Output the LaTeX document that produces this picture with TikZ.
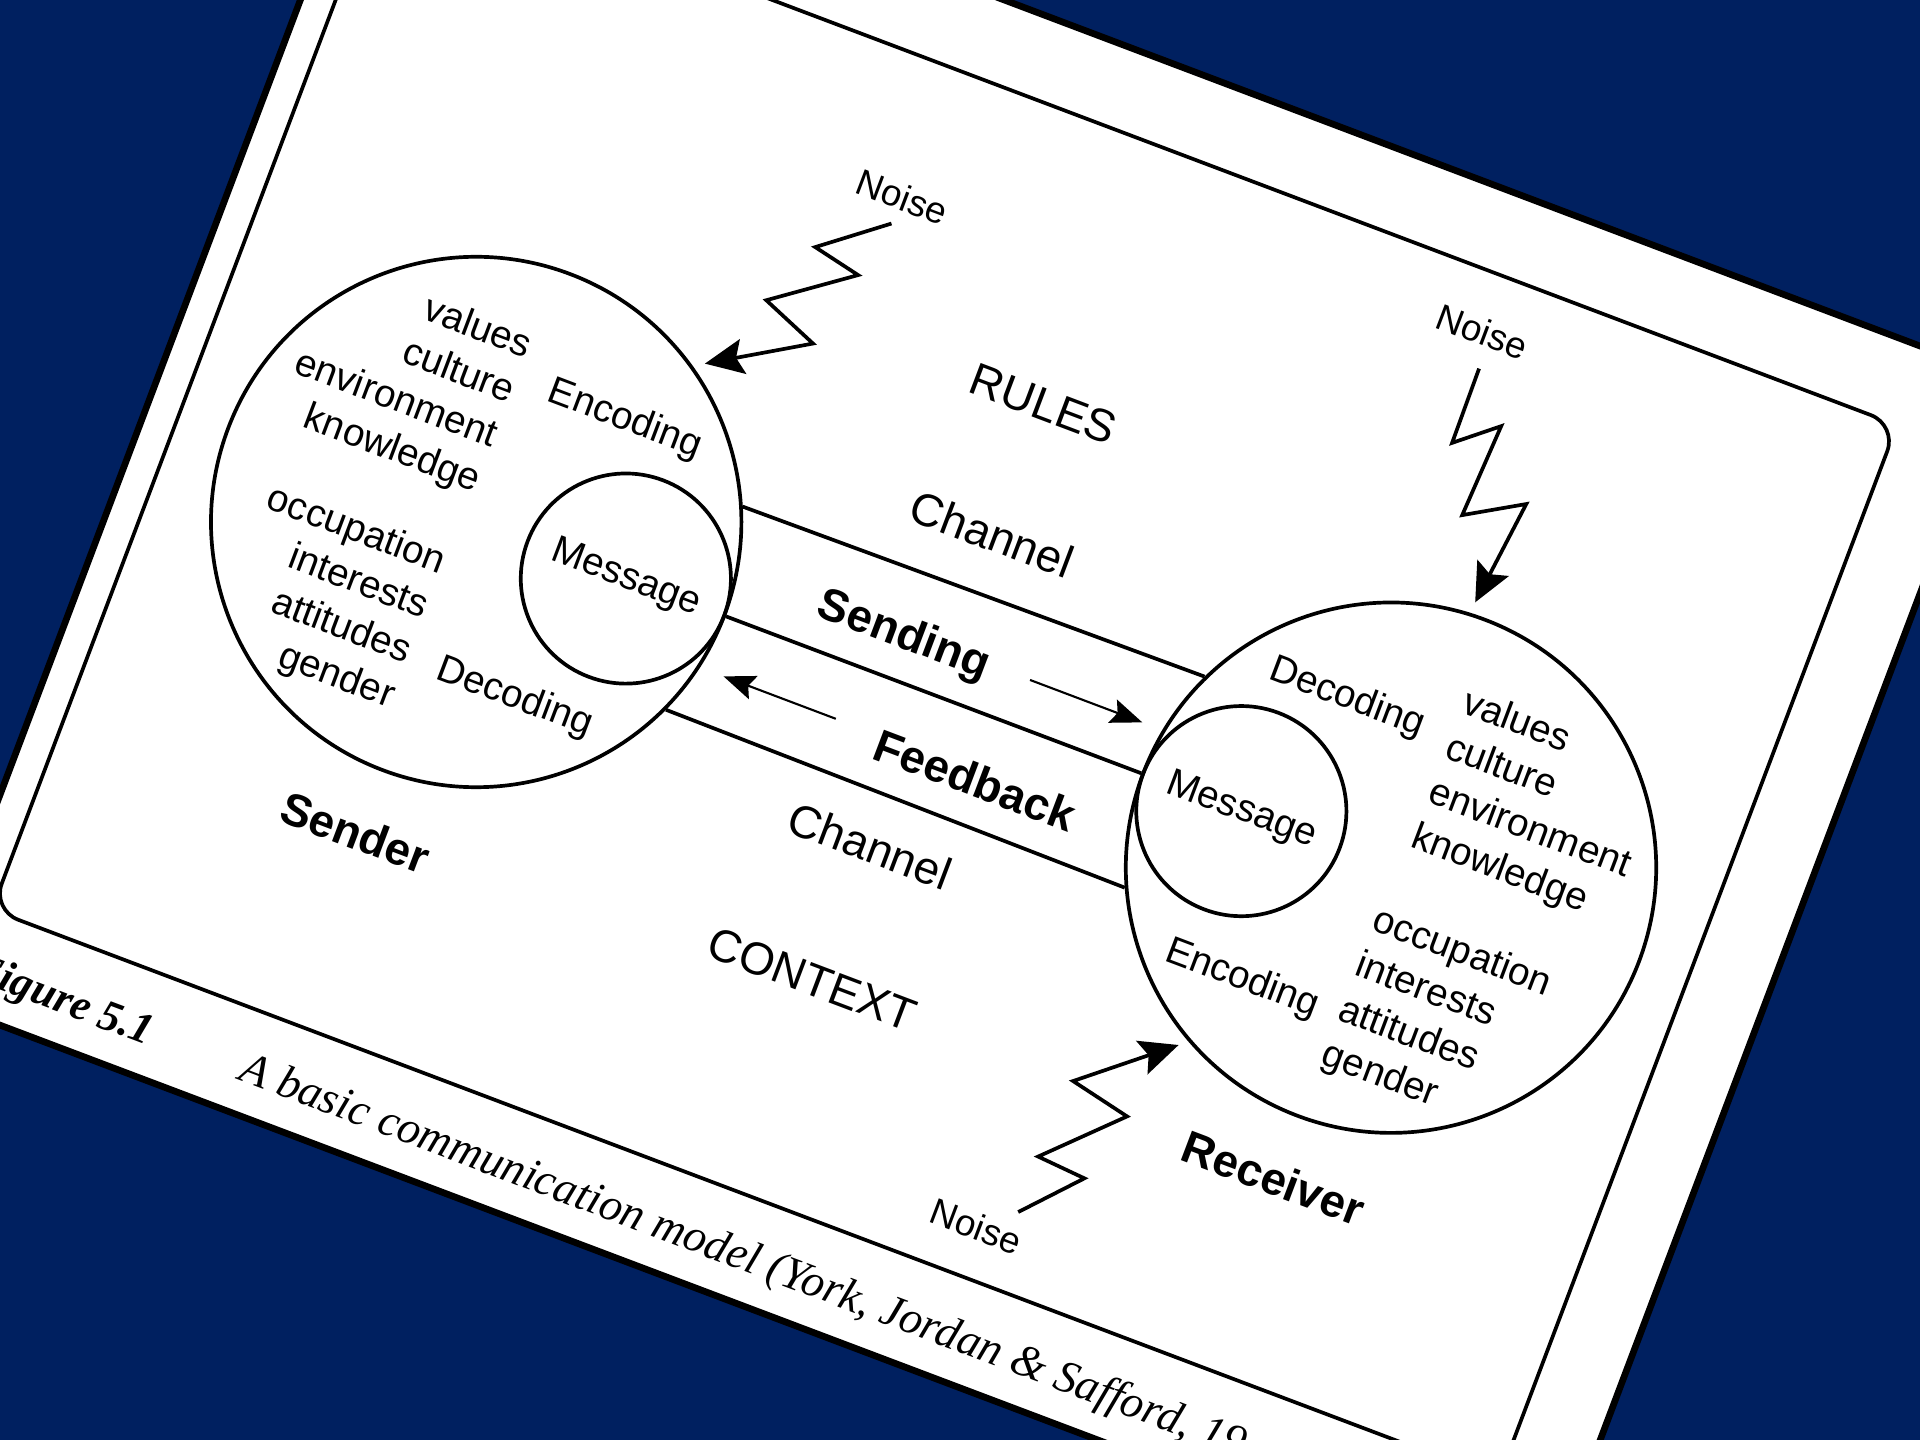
\documentclass[tikz,border=0pt]{standalone}
\usepackage{fontspec}
\setmainfont{Liberation Serif}
\newfontfamily\hv{Liberation Sans}
\usetikzlibrary{arrows.meta}
\definecolor{navy}{RGB}{0,32,96}

\begin{document}
\begin{tikzpicture}[x=0.01cm, y=-0.01cm,
  ink/.style={line width=1.05pt, black},
  lbl/.style={font=\hv\fontsize{11}{13.6}\selectfont, inner sep=0pt},
  big/.style={font=\hv\fontsize{13}{15}\selectfont, inner sep=0pt},
  heavy/.style={font=\hv\bfseries\fontsize{13}{15}\selectfont, inner sep=0pt},
  noiselbl/.style={font=\hv\fontsize{10.5}{12}\selectfont, inner sep=0pt},
  person/.style={circle, draw, ink, minimum size=5.3cm, inner sep=0pt},
  msgcirc/.style={circle, draw, ink, minimum size=2.1cm, inner sep=0pt,
                  font=\hv\fontsize{11}{13.6}\selectfont},
  zap/.style={ink, line join=miter, -{Stealth[length=11pt,width=10pt,inset=2pt]}},
  flow/.style={line width=0.6pt, -{Stealth[length=9pt,width=7pt,inset=1.5pt]}},
  capt/.style={anchor=base west, inner sep=0pt, font=\fontsize{13}{15}\selectfont\itshape},
]
\useasboundingbox (0,0) rectangle (1920,1440);
\fill[navy] (0,0) rectangle (1920,1440);
\clip (0,0) rectangle (1920,1440);

\begin{scope}[rotate=-20.7, transform shape]
  % the page and the figure frame
  \draw[line width=1.9pt, fill=white] (281,-355) rectangle (2006,959);
  \draw[ink, rounded corners=8pt] (314,-273) rectangle (1925,854);

  % sender and receiver with their messages
  \node[person] (snd) at (630,320) {};
  \node[person] (rcv) at (1608,320) {};
  \node[msgcirc] (smsg) at (790,320) {Message};
  \node[msgcirc] (rmsg) at (1448,320) {Message};

  % the two channels
  \draw[ink] (snd.24.77) -- (rcv.155.23);
  \draw[ink] (snd.east) -- (rcv.west);
  \draw[ink] (snd.-24.77) -- (rcv.-155.23);

  % labels of the channels and the surroundings
  \node[big] (rules) at (1119,9) {RULES};
  \node[big] (chtop) at (1117,149) {Channel};
  \node[heavy] (sending) at (1070,276) {Sending};
  \node[heavy] (feedback) at (1188,385) {Feedback};
  \node[big] (chbot) at (1113,484) {Channel};
  \node[big] (context) at (1106,629) {CONTEXT};
  \node[heavy] (sender) at (627,653) {Sender};
  \node[heavy] (receiver) at (1608,652) {Receiver};

  \coordinate (sendtail) at (1204,272);
  \coordinate (sendtip) at (1324,272);
  \draw[flow] (sendtail) -- (sendtip);
  \coordinate (fbtail) at (1036,377);
  \coordinate (fbtip) at (916,377);
  \draw[flow] (fbtail) -- (fbtip);

  % inside the sender
  \node[lbl] (sEnc) at (733,172) {Encoding};
  \node[lbl] (sDec) at (728,471) {Decoding};
  \node[lbl, align=right, anchor=east] (sTraitsA) at (619,211)
    {values\\culture\\environment\\knowledge};
  \node[lbl, align=right, anchor=east] (sTraitsB) at (615,443)
    {occupation\\interests\\attitudes\\gender};

  % inside the receiver
  \node[lbl] (rDec) at (1507,177) {Decoding};
  \node[lbl] (rEnc) at (1508,477) {Encoding};
  \node[lbl, align=left, anchor=west] (rTraitsA) at (1617,212)
    {values\\culture\\environment\\knowledge};
  \node[lbl, align=left, anchor=west] (rTraitsB) at (1610,447)
    {occupation\\interests\\attitudes\\gender};

  % noise bolts
  \node[noiselbl] (noiseA) at (914,-135) {Noise};
  \coordinate (zAstart) at (913,-106);
  \coordinate (zAtip) at (788,91);
  \draw[zap] (zAstart) -- (850,-57) -- (900,-46) -- (823,10) -- (882,34) -- (zAtip);

  \node[noiselbl] (noiseB) at (1504,-214) {Noise};
  \coordinate (zBstart) at (1514,-178);
  \coordinate (zBtip) at (1593,42);
  \draw[zap] (zBstart) -- (1515,-99) -- (1555,-132) -- (1550,-35) -- (1606,-68) -- (zBtip);

  \node[noiselbl] (noiseC) at (1347,802) {Noise};
  \coordinate (zCstart) at (1381,774);
  \coordinate (zCtip) at (1472,561);
  \draw[zap] (zCstart) -- (1431,719) -- (1380,715) -- (1449,646) -- (1386,632) -- (zCtip);

  % caption below the frame
  \node[capt, font=\fontsize{12.5}{15}\selectfont\bfseries\itshape] (figno) at (316,926) {Figure 5.1};
  \node[capt] (caption) at (603,926) {A basic communication model (York, Jordan \& Safford, 19};
\end{scope}
\end{tikzpicture}
\end{document}
